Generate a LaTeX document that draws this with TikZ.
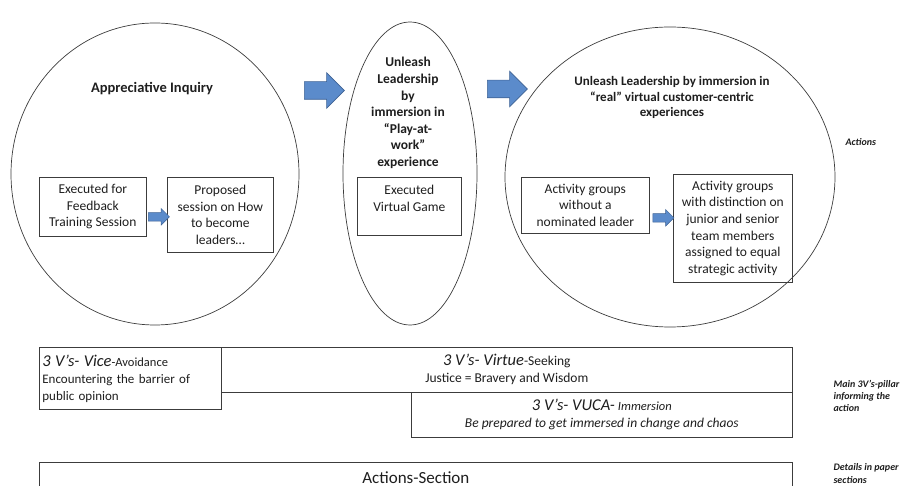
\documentclass[tikz,border=0pt]{standalone}
\usepackage{fontspec}
\setmainfont{Carlito}
\usetikzlibrary{shapes.geometric,shapes.arrows,calc}
\definecolor{ink}{HTML}{1E1E1E}
\definecolor{rim}{HTML}{3C3C3C}
\definecolor{arrowblue}{HTML}{5B8BCB}
\definecolor{arrowedge}{HTML}{3F6394}

\begin{document}
\begin{tikzpicture}[x=1pt, y=-1pt,
  ring/.style={ellipse, draw=rim, line width=0.7pt, inner sep=0pt},
  box/.style={draw=rim, line width=0.7pt, anchor=north west, align=center,
              inner sep=2pt, text=ink, font=\fontsize{13.5}{16.6}\selectfont},
  title/.style={align=center, text=ink, font=\bfseries\fontsize{13.5}{16.6}\selectfont},
  bigarrow/.style={single arrow, fill=arrowblue, draw=arrowedge, line width=0.6pt,
                   inner xsep=0pt, inner ysep=8.5pt, minimum height=40pt,
                   single arrow head extend=9pt},
  smallarrow/.style={single arrow, fill=arrowblue, draw=arrowedge, line width=0.5pt,
                     inner xsep=0pt, inner ysep=4pt, minimum height=21pt,
                     single arrow head extend=4pt},
  pillar/.style={draw=rim, line width=0.7pt, anchor=north west, inner sep=3pt, text=ink},
  note/.style={anchor=west, align=left, text=ink, font=\bfseries\itshape\fontsize{10}{12.3}\selectfont}
]
\useasboundingbox (0,0) rectangle (900,486);

\node[ring, minimum width=288pt, minimum height=302pt] (inquiry) at (155,174) {};
\node[ring, minimum width=134pt, minimum height=303pt] (play) at (410,173.5) {};
\node[ring, minimum width=330pt, minimum height=300pt] (real) at (670,177) {};

\node[title, font=\bfseries\fontsize{14.5}{17}\selectfont] (t1) at (152,89) {Appreciative Inquiry};
\node[title] (t2) at (408,113) {Unleash\\Leadership\\by\\immersion in\\“Play-at-\\work”\\experience};
\node[title, font=\bfseries\fontsize{13}{15.6}\selectfont] (t3) at (672,97.5)
  {Unleash Leadership by immersion in\\“real” virtual customer-centric\\experiences};

\node[box, minimum width=107pt, minimum height=59pt] (feedback) at (39,177)
  {Executed for\\Feedback\\Training Session};
\node[box, minimum width=106pt, minimum height=75pt] (proposed) at (167,177)
  {Proposed\\session on How\\to become\\leaders…};
\node[box, minimum width=104pt, minimum height=58pt] (game) at (357,177)
  {Executed\\Virtual Game\\\mbox{}};
\node[box, minimum width=128pt, minimum height=56pt] (noleader) at (521,177)
  {Activity groups\\without a\\nominated leader};
\node[box, minimum width=119pt, minimum height=108pt] (distinct) at (673,174)
  {Activity groups\\with distinction on\\junior and senior\\team members\\assigned to equal\\strategic activity};

\node[bigarrow] (go1) at (320,90.5) {};
\node[bigarrow] (go2) at (503,89) {};
\node[smallarrow] (s1) at ($(feedback.east)!0.5!(proposed.west)+(0,6)$) {};
\node[smallarrow] (s2) at ($(noleader.east)!0.5!(distinct.west)+(0,1)$) {};

\node[pillar, minimum width=571pt, minimum height=45pt, align=center,
      font=\fontsize{13.5}{16}\selectfont] (virtue) at (221,347)
  {{\itshape\fontsize{16.5}{19}\selectfont 3 V’s- Virtue}-Seeking\\[1pt]Justice = Bravery and Wisdom};
\node[pillar, minimum width=182pt, minimum height=62pt, align=left, text width=176pt,
      fill=white, font=\fontsize{13}{17}\selectfont] (vice) at (39,347)
  {{\itshape\fontsize{16.5}{18}\selectfont 3 V’s- Vice}{\fontsize{12.5}{17}\selectfont-Avoidance}\\Encountering the barrier of\\public opinion};
\node[pillar, minimum width=381pt, minimum height=45pt, align=center,
      font=\itshape\fontsize{13.5}{17}\selectfont] (vuca) at (411,392)
  {{\fontsize{16.5}{18}\selectfont 3 V’s- VUCA-} {\fontsize{12.5}{17}\selectfont Immersion}\\Be prepared to get immersed in change and chaos};
\node[pillar, minimum width=753pt, minimum height=30pt,
      font=\fontsize{17}{20}\selectfont] (section) at (39,462) {Actions-Section};

\node[note] (n1) at (842,142) {Actions};
\node[note] (n2) at (830,396) {Main 3V’s-pillar\\informing the\\action};
\node[note] (n3) at (830,473.5) {Details in paper\\sections};

\end{tikzpicture}
\end{document}
